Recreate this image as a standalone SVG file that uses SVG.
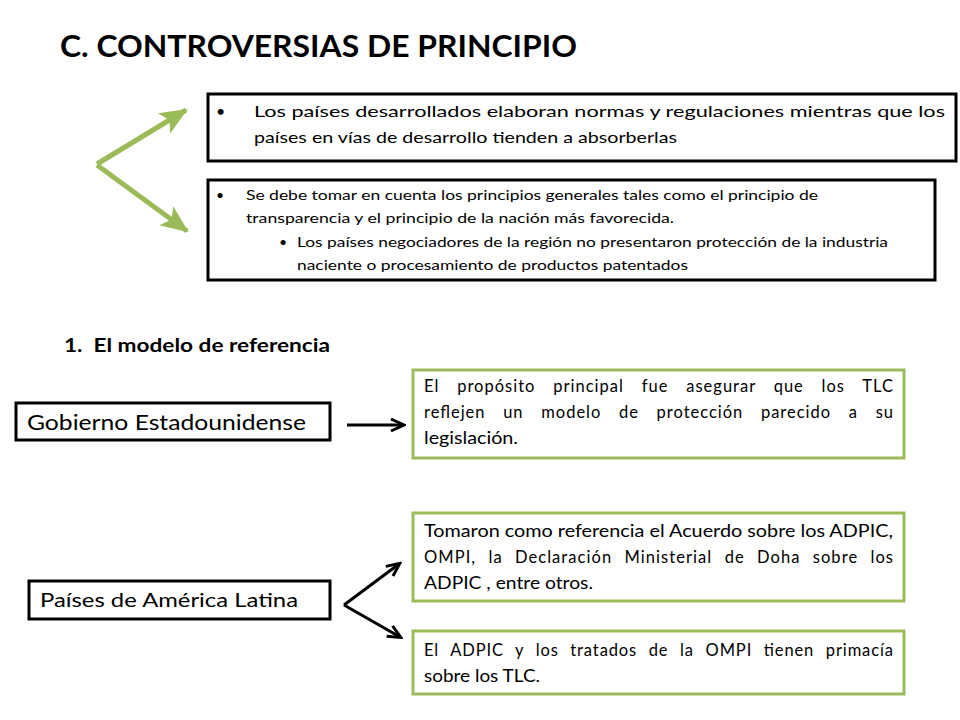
<svg xmlns="http://www.w3.org/2000/svg" width="960" height="720" viewBox="0 0 960 720">
<style>
text{font-family:Lato,"Open Sans","Liberation Sans",sans-serif;fill:#000}
.bk{fill:#fff;stroke:#000;stroke-width:3}
.gr{fill:#fff;stroke:#9bbb59;stroke-width:3}
.t16{font-size:16px}
.t14{font-size:14px}
.t165{font-size:16.5px}
</style>
<defs>
<marker id="ga" markerUnits="userSpaceOnUse" markerWidth="30" markerHeight="30" refX="24" refY="12" orient="auto" viewBox="0 0 28 24">
<path d="M0,1 L26,12 L0,23 L6,12 Z" fill="#9bbb59"/>
</marker>
<marker id="ba" markerUnits="userSpaceOnUse" markerWidth="16" markerHeight="16" refX="13" refY="7" orient="auto" viewBox="0 0 16 14">
<path d="M1,1 L14,7 L1,13" fill="none" stroke="#000" stroke-width="3" stroke-linejoin="miter"/>
</marker>
</defs>
<rect width="960" height="720" fill="#fff"/>
<text id="title" x="60" y="57" font-size="31" font-weight="bold" textLength="517" lengthAdjust="spacingAndGlyphs">C. CONTROVERSIAS DE PRINCIPIO</text>
<g id="connectors">
<line x1="97" y1="164" x2="186" y2="110" stroke="#9bbb59" stroke-width="5" marker-end="url(#ga)"/>
<line x1="97" y1="165" x2="187" y2="231" stroke="#9bbb59" stroke-width="5" marker-end="url(#ga)"/>
<line x1="347" y1="425" x2="403" y2="425" stroke="#000" stroke-width="3" marker-end="url(#ba)"/>
<line x1="344" y1="605" x2="399" y2="564" stroke="#000" stroke-width="3" marker-end="url(#ba)"/>
<line x1="344" y1="605" x2="400" y2="637" stroke="#000" stroke-width="3" marker-end="url(#ba)"/>
</g>
<g id="box1">
<rect class="bk" x="208" y="94" width="748" height="67"/>
<text class="t16" x="216" y="117">•</text>
<text class="t16" x="254" y="117" textLength="691" lengthAdjust="spacingAndGlyphs">Los países desarrollados elaboran normas y regulaciones mientras que los</text>
<text class="t16" x="254" y="143" textLength="423" lengthAdjust="spacingAndGlyphs">países en vías de desarrollo tienden a absorberlas</text>
</g>
<g id="box2">
<rect class="bk" x="208" y="180" width="727" height="100"/>
<text class="t14" x="216" y="200">•</text>
<text class="t14" x="246" y="200" textLength="572" lengthAdjust="spacingAndGlyphs">Se debe tomar en cuenta los principios generales tales como el principio de</text>
<text class="t14" x="246" y="223" textLength="428" lengthAdjust="spacingAndGlyphs">transparencia y el principio de la nación más favorecida.</text>
<text class="t14" x="279" y="247">•</text>
<text class="t14" x="297" y="247" textLength="591" lengthAdjust="spacingAndGlyphs">Los países negociadores de la región no presentaron protección de la industria</text>
<text class="t14" x="297" y="270" textLength="391" lengthAdjust="spacingAndGlyphs">naciente o procesamiento de productos patentados</text>
</g>
<text id="section" x="64" y="352" font-size="18" font-weight="bold" xml:space="preserve" textLength="266" lengthAdjust="spacingAndGlyphs">1.  El modelo de referencia</text>
<g id="gobierno">
<rect class="bk" x="16" y="403" width="314" height="37"/>
<text x="27" y="430" font-size="21" textLength="279" lengthAdjust="spacingAndGlyphs">Gobierno Estadounidense</text>
</g>
<g id="proposito">
<rect class="gr" x="413" y="370" width="491" height="88"/>
<text class="t165" x="424" y="392" word-spacing="12.5" textLength="469" lengthAdjust="spacing">El propósito principal fue asegurar que los TLC</text>
<text class="t165" x="424" y="418" word-spacing="12.5" textLength="469" lengthAdjust="spacing">reflejen un modelo de protección parecido a su</text>
<text class="t165" x="424" y="444" textLength="94" lengthAdjust="spacingAndGlyphs">legislación.</text>
</g>
<g id="paises">
<rect class="bk" x="29" y="581" width="301" height="38"/>
<text x="40" y="607" font-size="19" textLength="258" lengthAdjust="spacingAndGlyphs">Países de América Latina</text>
</g>
<g id="tomaron">
<rect class="gr" x="413" y="513" width="491" height="88"/>
<text class="t165" x="424" y="537" textLength="469" lengthAdjust="spacingAndGlyphs">Tomaron como referencia el Acuerdo sobre los ADPIC,</text>
<text class="t165" x="424" y="563" word-spacing="7" textLength="469" lengthAdjust="spacing">OMPI, la Declaración Ministerial de Doha sobre los</text>
<text class="t165" x="424" y="589" textLength="169" lengthAdjust="spacingAndGlyphs">ADPIC , entre otros.</text>
</g>
<g id="adpic">
<rect class="gr" x="413" y="631" width="491" height="63"/>
<text class="t165" x="424" y="656" word-spacing="6.5" textLength="469" lengthAdjust="spacing">El ADPIC y los tratados de la OMPI tienen primacía</text>
<text class="t165" x="424" y="682" textLength="116" lengthAdjust="spacingAndGlyphs">sobre los TLC.</text>
</g>
</svg>
